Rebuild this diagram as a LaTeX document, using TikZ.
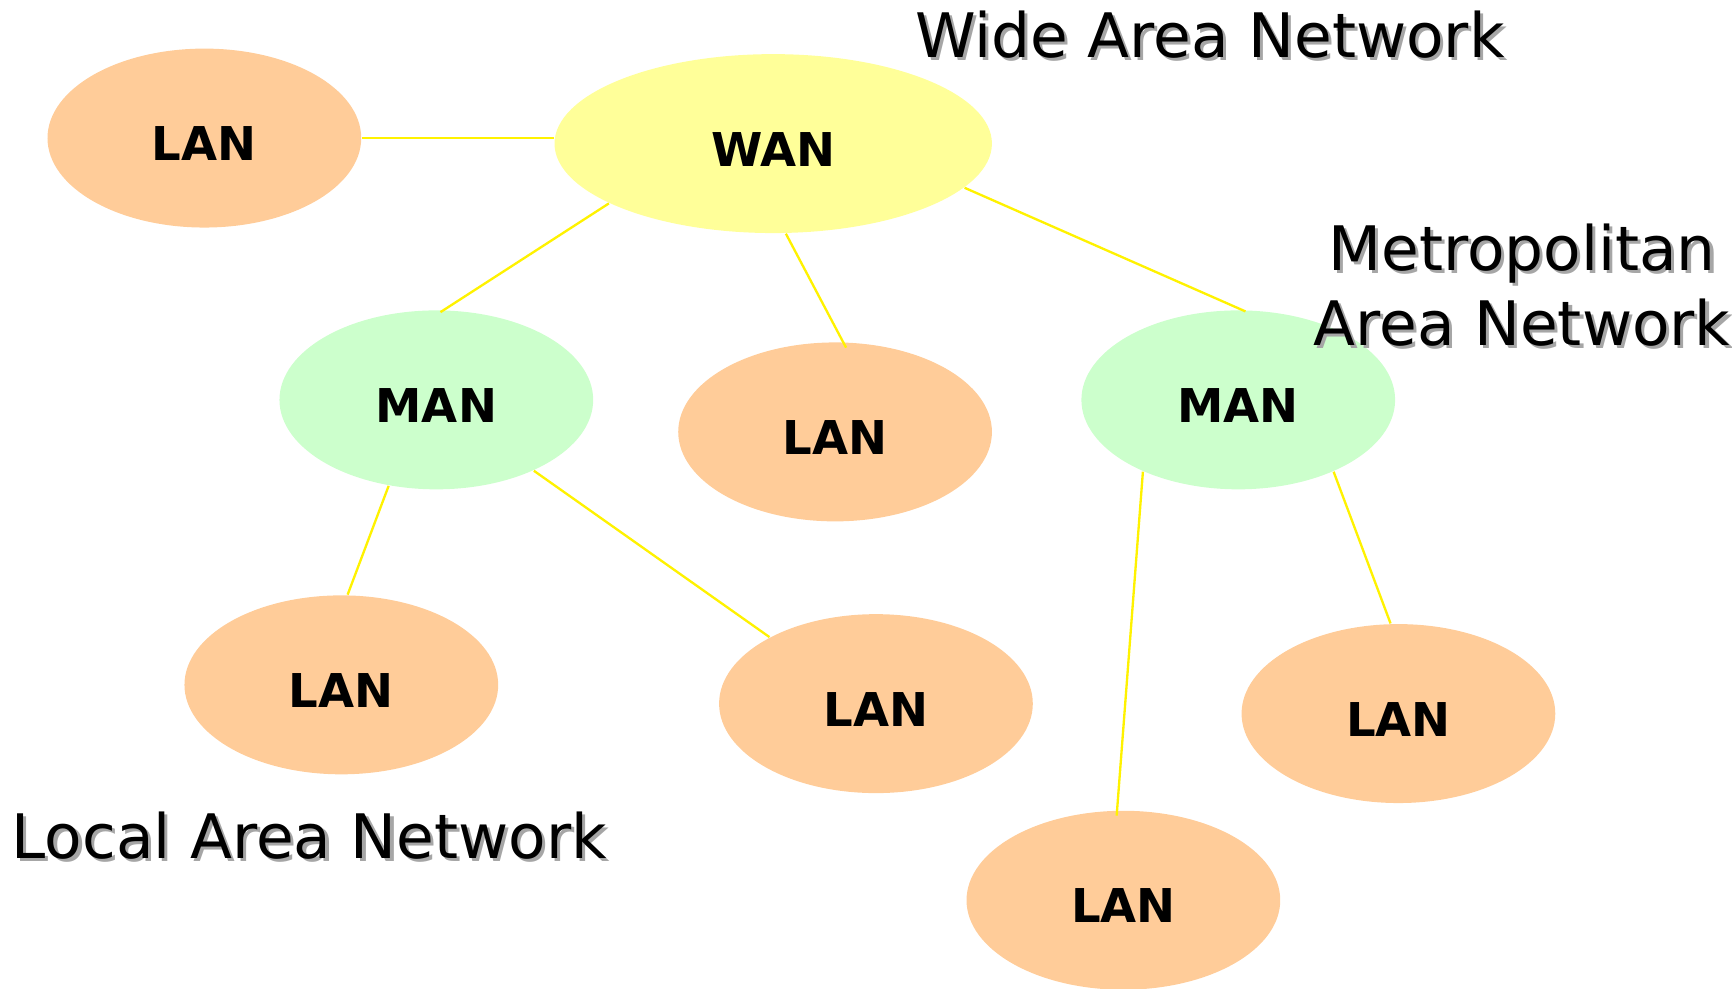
\documentclass[tikz,border=0pt]{standalone}
\usepackage{fontspec}
\setmainfont{DejaVu Sans}
\usepackage{tikz}
\usetikzlibrary{shapes.geometric}
\definecolor{lanfill}{HTML}{FFCC99}
\definecolor{wanfill}{HTML}{FFFF99}
\definecolor{manfill}{HTML}{CCFFCC}
\newcommand{\shadowed}[1]{\leavevmode\rlap{\kern0.8pt\raisebox{-0.8pt}{\color{black!35}#1}}#1}

\begin{document}
\begin{tikzpicture}[
		net/.style = {ellipse, inner sep=0pt, minimum width=2.84cm, minimum height=1.62cm,
			text height=0.41cm, text depth=0pt,
			font=\fontsize{12}{14}\selectfont\bfseries},
		lan/.style = {net, fill=lanfill},
		man/.style = {net, fill=manfill},
		wan/.style = {net, fill=wanfill, minimum width=3.96cm},
		link/.style = {draw=yellow, line width=0.6pt},
		title/.style = {font=\fontsize{15.8}{19.4}\selectfont, inner sep=0pt}]
		\useasboundingbox (0,0) rectangle (15.68,-8.95);
		% clouds
		\node[lan] (L1) at (1.85,-1.25) {LAN};
		\node[wan] (W) at (7.00,-1.30) {WAN};
		\node[man] (M1) at (3.95,-3.62) {MAN};
		\node[lan] (L2) at (7.56,-3.91) {LAN};
		\node[man] (M2) at (11.21,-3.62) {MAN};
		\node[lan] (L3) at (3.09,-6.20) {LAN};
		\node[lan] (L4) at (7.93,-6.37) {LAN};
		\node[lan] (L5) at (12.66,-6.46) {LAN};
		\node[lan] (L6) at (10.17,-8.15) {LAN};
		% captions
		\node[title, anchor=base west] (tW) at (8.28,-0.52) {\shadowed{Wide Area Network}};
		\node[title, anchor=north, align=center] (tM) at (13.78,-2.02)
			{\shadowed{Metropolitan}\\\shadowed{Area Network}};
		\node[title, anchor=base west] (tL) at (0.10,-7.77) {\shadowed{Local Area Network}};
		% links
		\path[link] (L1.east) edge (L1.east -| W.west)
			(W.200) edge[shorten >=-0.04cm] (M1.85)
			(W.278.7) edge[shorten >=-0.06cm] (L2.85)
			(W.347.75) edge[shorten >=-0.04cm] (M2.88)
			(M1.241.4) edge (L3.86)
			(M1.324.9) edge (L4.148.2)
			(M2.217.8) edge[shorten >=-0.05cm] (L6.94)
			(M2.323.7) edge (L5.95);
	\end{tikzpicture}
\end{document}
